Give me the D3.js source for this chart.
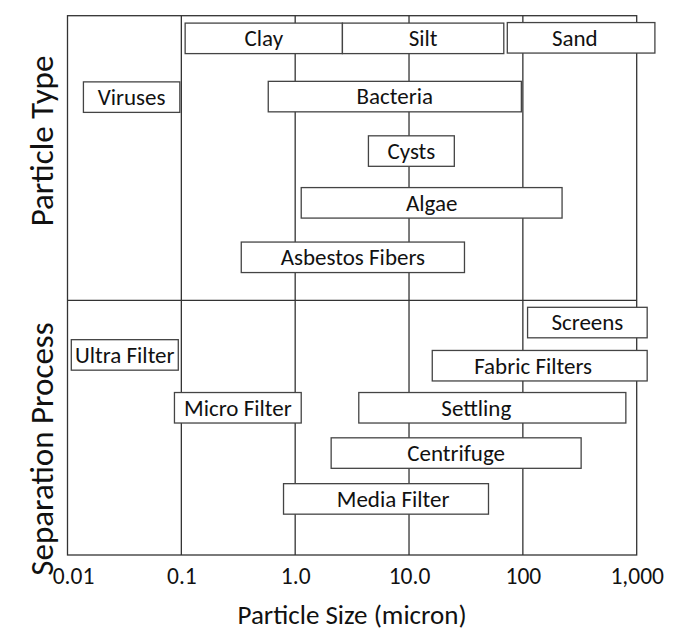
<!DOCTYPE html>
<html>
<head>
<meta charset="utf-8">
<script src="https://cdn.jsdelivr.net/npm/d3@7"></script>
<style>
  html, body { margin: 0; padding: 0; background: #fff; }
  svg { display: block; }
  text { font-family: Carlito, Calibri, Lato, "Open Sans", sans-serif; fill: #111; }
</style>
</head>
<body>
<svg id="chart" width="699" height="631"></svg>
<script>
// ---- data ----
const tickValues = [0.01, 0.1, 1, 10, 100, 1000];
const tickLabels = ["0.01", "0.1", "1.0", "10.0", "100", "1,000"];

const sections = ["Particle Type", "Separation Process"];
const sectionBounds = [[47.2, 100], [0, 47.2]]; // in row units

const names  = ["Clay", "Silt", "Sand", "Viruses", "Bacteria", "Cysts", "Algae", "Asbestos Fibers",
                "Screens", "Ultra Filter", "Fabric Filters", "Micro Filter", "Settling", "Centrifuge", "Media Filter"];
const minSize = [0.108, 2.6, 73, 0.0138, 0.58, 4.4, 1.13, 0.336,
                 110, 0.0108, 16, 0.087, 3.62, 2.07, 0.79];
const maxSize = [2.6, 68, 1445, 0.097, 97, 25, 221, 30.7,
                 1236, 0.094, 1236, 1.13, 803, 325, 49.9];
const rowPos  = [95.8, 95.8, 95.9, 84.9, 85.0, 74.9, 65.3, 55.2,
                 43.1, 37.1, 35.1, 27.3, 27.3, 18.9, 10.4];
const labelAt = [null, null, 286, null, null, null, null, null,
                 null, null, 123, null, 39, null, 7.25];

// ---- layout ----
const svg = d3.select("#chart");
const mLeft = 67.5, mRight = 636.7, mTop = 15.7, mBottom = 555;

const x = d3.scaleLog().domain([0.01, 1000]).range([mLeft, mRight]);
const y = d3.scaleLinear().domain([0, 100]).range([mBottom, mTop]);
const boxH = 30.5;

// vertical gridlines
svg.append("g").selectAll("line").data(tickValues.slice(1, -1)).join("line")
  .attr("x1", d => x(d)).attr("x2", d => x(d))
  .attr("y1", mTop).attr("y2", mBottom)
  .attr("stroke", "#333").attr("stroke-width", 1.3);

// section divider
svg.append("line")
  .attr("x1", mLeft).attr("x2", mRight)
  .attr("y1", y(sectionBounds[0][0])).attr("y2", y(sectionBounds[0][0]))
  .attr("stroke", "#333").attr("stroke-width", 1.3);

// frame
svg.append("rect")
  .attr("x", mLeft).attr("y", mTop)
  .attr("width", mRight - mLeft).attr("height", mBottom - mTop)
  .attr("fill", "none").attr("stroke", "#333").attr("stroke-width", 1.3);

// boxes
const items = names.map((n, i) => ({ name: n, lo: minSize[i], hi: maxSize[i], row: rowPos[i], lab: labelAt[i] }));
const g = svg.append("g").selectAll("g").data(items).join("g");
g.append("rect")
  .attr("x", d => x(d.lo)).attr("width", d => x(d.hi) - x(d.lo))
  .attr("y", d => y(d.row) - boxH / 2).attr("height", boxH)
  .attr("fill", "#fff").attr("stroke", "#444").attr("stroke-width", 1.3);
g.append("text")
  .attr("x", d => d.lab ? x(d.lab) : (x(d.lo) + x(d.hi)) / 2)
  .attr("y", d => y(d.row))
  .attr("dy", "0.34em")
  .attr("text-anchor", "middle")
  .attr("font-size", 23)
  .text(d => d.name);

// x axis labels
const xAxis = d3.axisBottom(x).tickValues(tickValues)
  .tickFormat((d, i) => tickLabels[i]).tickSize(0).tickPadding(12);
const ax = svg.append("g").attr("transform", `translate(0,${mBottom})`).call(xAxis);
ax.select(".domain").remove();
ax.selectAll("text").attr("font-size", 23.5).attr("fill", "#111")
  .attr("dx", (d, i) => i === 0 ? 5.5 : 0)
  .style("font-family", "Carlito, Calibri, Lato, 'Open Sans', sans-serif");

// axis titles
svg.append("text")
  .attr("x", (mLeft + mRight) / 2).attr("y", 615).attr("dy", "0.35em")
  .attr("text-anchor", "middle").attr("font-size", 27)
  .text("Particle Size (micron)");

const titleCenters = [141, 449];
sections.forEach((s, i) => {
  svg.append("text")
    .attr("transform", `translate(41,${titleCenters[i]}) rotate(-90)`)
    .attr("dy", "0.35em")
    .attr("text-anchor", "middle").attr("font-size", 33)
    .text(s);
});
</script>
</body>
</html>
